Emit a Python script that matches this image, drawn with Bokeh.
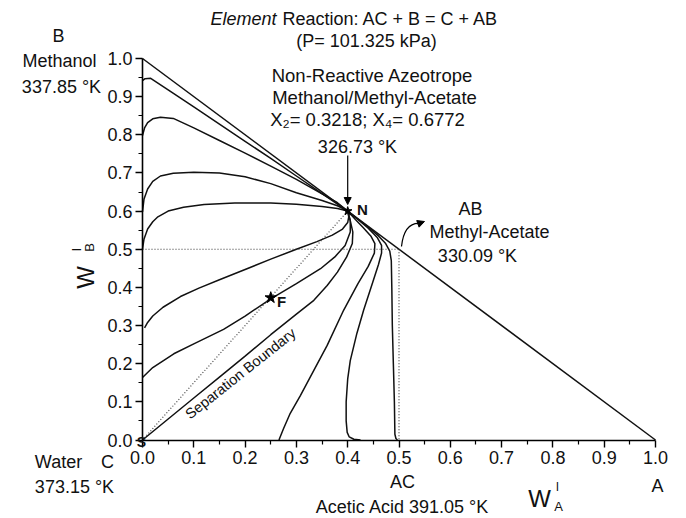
from bokeh.plotting import figure
from bokeh.models import Range1d, FixedTicker, PrintfTickFormatter, Label, Arrow, NormalHead
from bokeh.embed import file_html
from bokeh.resources import INLINE
import math

# ---------------- data ----------------
hyp_x = [0.0, 1.0]
hyp_y = [1.0, 0.0]

u1_x = [0.0, 0.005, 0.016, 0.05, 0.1, 0.15, 0.2, 0.25, 0.3, 0.35, 0.4]
u1_y = [0.942, 0.947, 0.948, 0.918, 0.873, 0.828, 0.783, 0.738, 0.692, 0.646, 0.6]

u2_x = [0.0, 0.004, 0.01, 0.02, 0.035, 0.06, 0.1, 0.15, 0.2, 0.25, 0.3, 0.35, 0.38, 0.4]
u2_y = [0.798, 0.818, 0.832, 0.842, 0.846, 0.843, 0.818, 0.785, 0.752, 0.718, 0.683, 0.645, 0.622, 0.6]

u3_x = [0.0, 0.003, 0.01, 0.02, 0.035, 0.06, 0.1, 0.15, 0.2, 0.25, 0.3, 0.35, 0.38, 0.4]
u3_y = [0.598, 0.632, 0.658, 0.678, 0.692, 0.699, 0.702, 0.7, 0.69, 0.672, 0.648, 0.628, 0.614, 0.6]

u4_x = [0.0, 0.003, 0.01, 0.02, 0.03, 0.05, 0.08, 0.12, 0.18, 0.25, 0.3, 0.35, 0.38, 0.4]
u4_y = [0.5, 0.527, 0.553, 0.572, 0.585, 0.6, 0.61, 0.617, 0.621, 0.621, 0.618, 0.612, 0.607, 0.6]

l1_x = [0.004, 0.01, 0.02, 0.04, 0.074, 0.11, 0.15, 0.2, 0.25, 0.3, 0.34, 0.37, 0.39, 0.4, 0.402, 0.4]
l1_y = [0.294, 0.308, 0.325, 0.348, 0.376, 0.398, 0.42, 0.447, 0.474, 0.5, 0.52, 0.537, 0.553, 0.57, 0.585, 0.6]

l2_x = [0.0, 0.02, 0.061, 0.1, 0.158, 0.2, 0.25, 0.3, 0.347, 0.375, 0.395, 0.405, 0.405, 0.4]
l2_y = [0.164, 0.19, 0.226, 0.252, 0.29, 0.325, 0.37, 0.41, 0.449, 0.48, 0.51, 0.545, 0.575, 0.6]

sep_x = [0.0, 0.05, 0.1, 0.15, 0.2, 0.25, 0.3, 0.334, 0.36, 0.38, 0.398, 0.409, 0.41, 0.405, 0.4]
sep_y = [0.0, 0.055, 0.11, 0.165, 0.22, 0.276, 0.33, 0.366, 0.405, 0.44, 0.48, 0.515, 0.545, 0.575, 0.6]

c1_x = [0.266, 0.275, 0.288, 0.308, 0.335, 0.36, 0.392, 0.42, 0.44, 0.452, 0.453, 0.445, 0.43, 0.415, 0.4]
c1_y = [0.0, 0.03, 0.07, 0.117, 0.185, 0.248, 0.34, 0.41, 0.455, 0.49, 0.515, 0.535, 0.557, 0.578, 0.6]

c2_x = [0.425, 0.412, 0.403, 0.399, 0.397, 0.397, 0.4, 0.405, 0.418, 0.431, 0.448, 0.46, 0.466, 0.466, 0.458, 0.44, 0.42, 0.4]
c2_y = [0.0, 0.002, 0.008, 0.02, 0.05, 0.1, 0.16, 0.208, 0.28, 0.34, 0.41, 0.46, 0.49, 0.51, 0.53, 0.555, 0.578, 0.6]

c4_x = [0.497, 0.494, 0.492, 0.491, 0.489, 0.487, 0.486, 0.485, 0.482, 0.474, 0.46, 0.44, 0.42, 0.4]
c4_y = [0.0, 0.004, 0.015, 0.1, 0.2, 0.3, 0.4, 0.47, 0.495, 0.515, 0.535, 0.558, 0.579, 0.6]

solid_curves = [(hyp_x, hyp_y), (u1_x, u1_y), (u2_x, u2_y), (u3_x, u3_y), (u4_x, u4_y),
                (l1_x, l1_y), (l2_x, l2_y), (sep_x, sep_y), (c1_x, c1_y), (c2_x, c2_y), (c4_x, c4_y)]

feed_line_x = [0.0, 0.4]
feed_line_y = [0.0, 0.6]
h_dot_x = [0.0, 0.5]
h_dot_y = [0.5, 0.5]
v_dot_x = [0.5, 0.5]
v_dot_y = [0.5, 0.0]

N_pt = (0.4, 0.6)
F_pt = (0.25, 0.373)

ticks = [0.0, 0.1, 0.2, 0.3, 0.4, 0.5, 0.6, 0.7, 0.8, 0.9, 1.0]
minor = [0.05, 0.15, 0.25, 0.35, 0.45, 0.55, 0.65, 0.75, 0.85, 0.95]

# ---------------- figure ----------------
FONT = "Liberation Sans"
W, H = 686, 518
X0, X1 = 142.0, 655.0     # canvas px of data x=0 and x=1
Y0, Y1 = 439.5, 58.0      # canvas px of data y=0 and y=1
SX = X1 - X0
SY = Y0 - Y1


def dx(px):
    return (px - X0) / SX


def dy(py):
    return (Y0 - py) / SY


p = figure(width=W, height=H,
           x_range=Range1d(dx(0), dx(W)), y_range=Range1d(dy(H), dy(0)),
           output_backend="svg", toolbar_location=None, min_border=0)
p.outline_line_color = None
p.grid.visible = False
p.background_fill_color = "white"
p.border_fill_color = "white"

for ax in (p.xaxis[0], p.yaxis[0]):
    ax.fixed_location = 0
    ax.bounds = (0, 1)
    ax.ticker = FixedTicker(ticks=ticks, minor_ticks=minor)
    ax.formatter = PrintfTickFormatter(format="%.1f")
    ax.axis_line_color = "black"
    ax.axis_line_width = 1.6
    ax.major_tick_line_color = "black"
    ax.major_tick_line_width = 1.4
    ax.minor_tick_line_color = "black"
    ax.minor_tick_line_width = 1.2
    ax.major_tick_in = 0
    ax.major_tick_out = 7
    ax.minor_tick_in = 0
    ax.minor_tick_out = 4
    ax.major_label_text_font = FONT
    ax.major_label_text_font_size = "18px"
    ax.major_label_text_color = "#111111"
p.xaxis.major_label_standoff = 4
p.yaxis.major_label_standoff = 3

for cx, cy in solid_curves:
    p.line(cx, cy, line_color="#111111", line_width=1.5)

p.line(feed_line_x, feed_line_y, line_color="#333333", line_width=1.1, line_dash="1 2")
p.line(h_dot_x, h_dot_y, line_color="#333333", line_width=1.1, line_dash="1 2")
p.line(v_dot_x, v_dot_y, line_color="#333333", line_width=1.1, line_dash="1 2")

p.scatter([N_pt[0]], [N_pt[1]], marker="star", size=9, fill_color="black", line_color="black")
p.scatter([F_pt[0]], [F_pt[1]], marker="star", size=12, fill_color="black", line_color="black")

# arrow into N
p.add_layout(Arrow(x_start=0.4, y_start=dy(155), x_end=0.4, y_end=dy(204),
                   line_width=1.2, line_color="black",
                   end=NormalHead(size=7, fill_color="black", line_color="black")))

# curved arrow to the AB label
p.bezier(x0=[dx(401)], y0=[dy(246)], x1=[dx(420)], y1=[dy(223)],
         cx0=[dx(403)], cy0=[dy(228)], cx1=[dx(410)], cy1=[dy(222)],
         line_color="black", line_width=1.2)
p.add_layout(Arrow(x_start=dx(417), y_start=dy(223.5), x_end=dx(424), y_end=dy(221),
                   line_width=1.2, line_color="black",
                   end=NormalHead(size=7, fill_color="black", line_color="black")))


def lab(text, px, py, size="18px", align="center", style="normal", angle=0.0, baseline="middle"):
    p.add_layout(Label(x=dx(px), y=dy(py), text=text, text_font=FONT, text_font_size=size,
                       text_font_style=style, text_align=align, text_baseline=baseline,
                       text_color="#111111", angle=angle))


lab("Element", 210, 18, align="left", style="italic")
lab("Reaction: AC + B = C + AB", 282, 18, align="left")
lab("(P= 101.325 kPa)", 366, 40)
lab("Non-Reactive Azeotrope", 372, 75, size="18.5px")
lab("Methanol/Methyl-Acetate", 374, 97, size="18.5px")
lab("X\u2082= 0.3218; X\u2084= 0.6772", 367, 119, size="18.5px")
lab("326.73 °K", 357, 146)

lab("B", 58, 35)
lab("Methanol", 59, 60)
lab("337.85 °K", 61, 86)

lab("Water", 58, 461)
lab("C", 107, 461)
lab("373.15 °K", 74, 486)

lab("AC", 402, 481)
lab("Acetic Acid 391.05 °K", 402, 506)
lab("A", 657, 485)

lab("AB", 470, 208)
lab("Methyl-Acetate", 489, 231)
lab("330.09 °K", 477, 255)

lab("N", 362, 209, size="15px", style="bold")
lab("F", 281, 301, size="15px", style="bold")
lab("S", 141, 441, size="14px", style="bold")

lab("Separation Boundary", 240, 373, size="14.5px", angle=math.radians(38.5))

# axis titles  W^I_B (rotated) and W^I_A
lab("W", 85, 277, size="24px", angle=math.pi / 2)
lab("I", 76, 249, size="12px", angle=math.pi / 2)
lab("B", 89, 247, size="13px", angle=math.pi / 2)

lab("W", 539, 498, size="24px")
lab("I", 557, 486, size="12px")
lab("A", 558, 506, size="13px")

open("out.html", "w").write(file_html(p, INLINE))
